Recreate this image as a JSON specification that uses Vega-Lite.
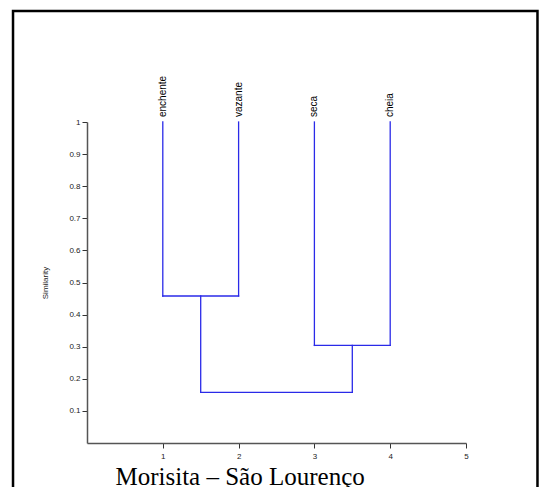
{
  "$schema": "https://vega.github.io/schema/vega-lite/v6.json",
  "autosize": "none",
  "padding": {"left": 87, "top": 122, "right": 77, "bottom": 44},
  "width": 379,
  "height": 321,
  "background": "white",
  "datasets": {
    "links": [
      {"x": 1, "x2": 1, "y": 1, "y2": 0.458},
      {"x": 2, "x2": 2, "y": 1, "y2": 0.458},
      {"x": 1, "x2": 2, "y": 0.458, "y2": 0.458},
      {"x": 3, "x2": 3, "y": 1, "y2": 0.304},
      {"x": 4, "x2": 4, "y": 1, "y2": 0.304},
      {"x": 3, "x2": 4, "y": 0.304, "y2": 0.304},
      {"x": 1.5, "x2": 1.5, "y": 0.458, "y2": 0.158},
      {"x": 3.5, "x2": 3.5, "y": 0.304, "y2": 0.158},
      {"x": 1.5, "x2": 3.5, "y": 0.158, "y2": 0.158}
    ],
    "leaves": [
      {"station": "enchente", "x": 1, "y": 1},
      {"station": "vazante", "x": 2, "y": 1},
      {"station": "seca", "x": 3, "y": 1},
      {"station": "cheia", "x": 4, "y": 1}
    ]
  },
  "layer": [
    {
      "description": "Page frame drawn around the whole figure",
      "data": {"values": [{}]},
      "mark": {"type": "rect", "filled": false, "stroke": "#000000", "strokeWidth": 2.5, "clip": false},
      "encoding": {
        "x": {"datum": -0.976, "type": "quantitative"},
        "x2": {"datum": 5.943},
        "y": {"datum": 1.346, "type": "quantitative"},
        "y2": {"datum": -0.25}
      }
    },
    {
      "description": "Dendrogram branches",
      "data": {"name": "links"},
      "mark": {"type": "rule", "color": "#2a2ae8", "strokeWidth": 1.3, "strokeCap": "square"},
      "encoding": {
        "x": {
          "field": "x",
          "type": "quantitative",
          "scale": {"domain": [0, 5], "nice": false, "zero": false},
          "axis": {
            "values": [1, 2, 3, 4, 5],
            "tickCount": 10,
            "format": "d",
            "labelPadding": 4,
            "labelOverlap": false,
            "title": "Morisita – São Lourenço",
            "titleFont": "Liberation Serif",
            "titleFontSize": 25,
            "titleFontWeight": "normal",
            "titleColor": "#000000",
            "titleAlign": "left",
            "titleBaseline": "alphabetic",
            "titleX": 28,
            "titleY": 41
          }
        },
        "x2": {"field": "x2"},
        "y": {
          "field": "y",
          "type": "quantitative",
          "scale": {"domain": [0, 1], "nice": false, "zero": false},
          "axis": {
            "values": [0.1, 0.2, 0.3, 0.4, 0.5, 0.6, 0.7, 0.8, 0.9, 1],
            "tickCount": 20,
            "format": "~g",
            "title": "Similarity",
            "titlePadding": 19,
            "labelPadding": 2,
            "labelOverlap": false
          }
        },
        "y2": {"field": "y2"}
      }
    },
    {
      "description": "Leaf labels above each branch",
      "data": {"name": "leaves"},
      "mark": {
        "type": "text",
        "angle": 270,
        "align": "left",
        "baseline": "middle",
        "dx": 5,
        "font": "Liberation Sans",
        "fontSize": 10,
        "color": "#000000"
      },
      "encoding": {
        "x": {"field": "x", "type": "quantitative"},
        "y": {"field": "y", "type": "quantitative"},
        "text": {"field": "station", "type": "nominal"}
      }
    }
  ],
  "config": {
    "font": "Liberation Sans",
    "view": {"stroke": null},
    "axis": {
      "grid": false,
      "labelFlush": false,
      "domainColor": "#555555",
      "domainWidth": 1.5,
      "tickColor": "#333333",
      "tickSize": 5,
      "tickWidth": 1,
      "labelFont": "Liberation Sans",
      "labelFontSize": 8,
      "labelColor": "#222222",
      "titleFont": "Liberation Sans",
      "titleFontSize": 8,
      "titleFontWeight": "normal",
      "titleColor": "#222222"
    }
  }
}
